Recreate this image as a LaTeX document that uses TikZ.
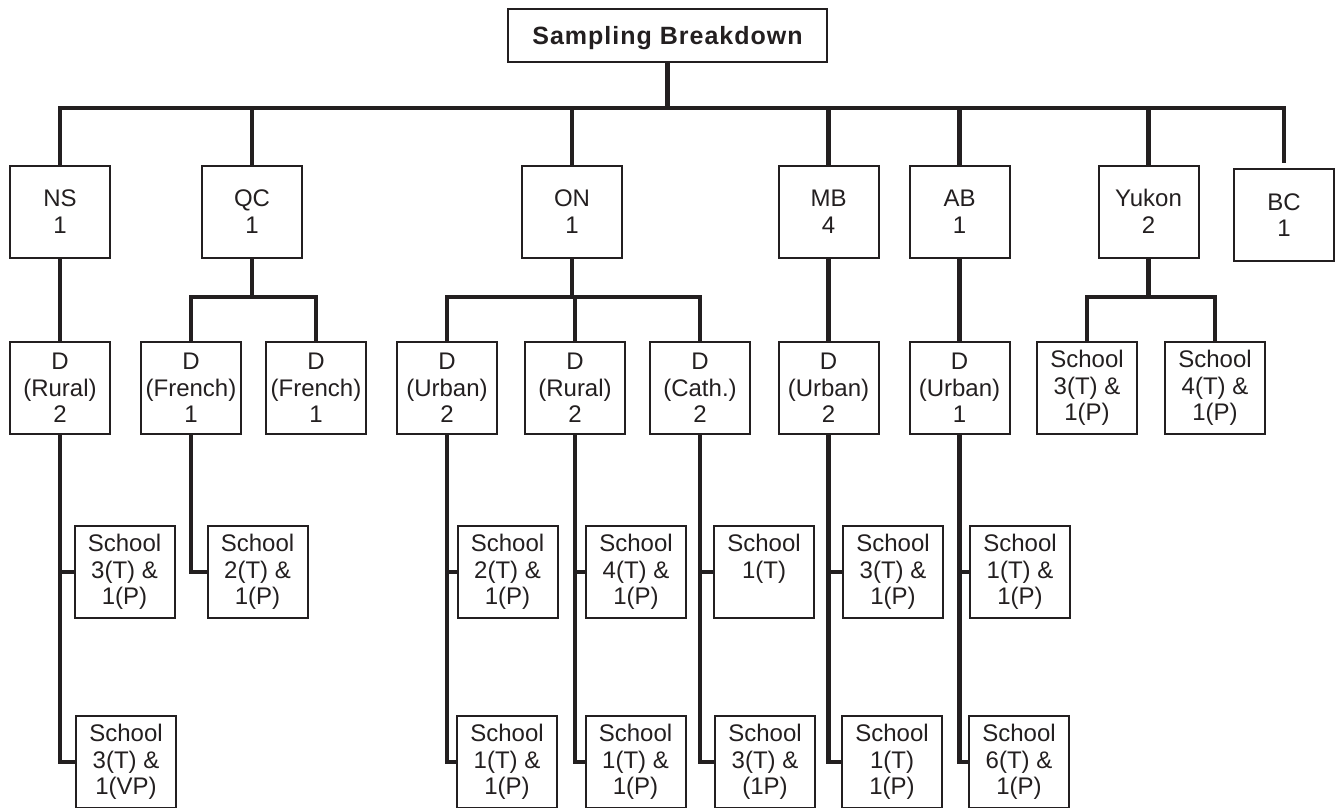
\documentclass[tikz,border=0pt]{standalone}
\usepackage{fontspec}
\setmainfont{Liberation Sans}
\definecolor{ink}{RGB}{35,31,32}
\begin{document}
\begin{tikzpicture}[x=1pt,y=-1pt,
  bx/.style={draw=ink, line width=2pt, text=ink, minimum width=100pt, minimum height=92pt,
    inner sep=0pt, align=center, font=\fontsize{24}{26.5}\selectfont},
  up/.style={execute at begin node={\rule{0pt}{26pt}}},
  titlebox/.style={draw=ink, line width=2pt, text=ink, minimum width=319pt, minimum height=53pt,
    inner sep=0pt, text depth=0pt, font=\bfseries\fontsize{25}{30}\selectfont\addfontfeature{LetterSpace=4}},
  conn/.style={draw=ink, line width=4.3pt, line join=miter}]
\useasboundingbox (0,0) rectangle (1338,807);
\clip (0,0) rectangle (1338,807);

% title
\node[titlebox] (title) at (667.5,35.5) {Sampling Breakdown};
\coordinate (bar) at (667,108);

% provinces
\node[bx] (ns) at (60,211.5) {NS\\1};
\node[bx] (qc) at (252,211.5) {QC\\1};
\node[bx] (on) at (572,211.5) {ON\\1};
\node[bx] (mb) at (828.5,211.5) {MB\\4};
\node[bx] (ab) at (959.5,211.5) {AB\\1};
\node[bx] (yk) at (1148.5,211.5) {Yukon\\2};
\node[bx] (bc) at (1284,215) {BC\\1};

% districts
\node[bx] (nsd) at (60,388) {D\\(Rural)\\2};
\node[bx] (qcd1) at (191,388) {D\\(French)\\1};
\node[bx] (qcd2) at (316,388) {D\\(French)\\1};
\node[bx] (ond1) at (447,388) {D\\(Urban)\\2};
\node[bx] (ond2) at (575,388) {D\\(Rural)\\2};
\node[bx] (ond3) at (700,388) {D\\(Cath.)\\2};
\node[bx] (mbd) at (828.5,388) {D\\(Urban)\\2};
\node[bx] (abd) at (959.5,388) {D\\(Urban)\\1};
\node[bx,up] (yks1) at (1087,388) {School\\3(T) \&\\1(P)};
\node[bx,up] (yks2) at (1215,388) {School\\4(T) \&\\1(P)};

% schools, upper row
\node[bx,up] (nss1) at (124.5,572) {School\\3(T) \&\\1(P)};
\node[bx,up] (qcs1) at (257.5,572) {School\\2(T) \&\\1(P)};
\node[bx,up] (ons1) at (507.5,572) {School\\2(T) \&\\1(P)};
\node[bx,up] (ons2) at (636,572) {School\\4(T) \&\\1(P)};
\node[bx,up] (ons3) at (764,572) {School\\1(T)\\\phantom{1(P)}};
\node[bx,up] (mbs1) at (893,572) {School\\3(T) \&\\1(P)};
\node[bx,up] (abs1) at (1020,572) {School\\1(T) \&\\1(P)};

% schools, lower row
\node[bx] (nss2) at (126,762) {School\\3(T) \&\\1(VP)};
\node[bx] (ons4) at (507,762) {School\\1(T) \&\\1(P)};
\node[bx] (ons5) at (635.5,762) {School\\1(T) \&\\1(P)};
\node[bx] (ons6) at (765,762) {School\\3(T) \&\\(1P)};
\node[bx] (mbs2) at (892,762) {School\\1(T)\\1(P)};
\node[bx] (abs2) at (1019,762) {School\\6(T) \&\\1(P)};

% top level connectors
\draw[conn] (title.south) -- (title.south |- bar);
\draw[conn] (ns.north) -- (ns.north |- bar) -- (bc.north |- bar) -- ([yshift=5pt]bc.north);
\foreach \p in {qc,on,mb,ab,yk} \draw[conn] (\p.north) -- (\p.north |- bar);

% province to district
\draw[conn] (ns.south) -- (nsd.north);
\draw[conn] (mb.south) -- (mbd.north);
\draw[conn] (ab.south) -- (abd.north);

\coordinate (bar2) at (0,297);
\draw[conn] (qc.south) -- (qc.south |- bar2);
\draw[conn] (qcd1.north) -- (qcd1.north |- bar2) -- (qcd2.north |- bar2) -- (qcd2.north);
\draw[conn] (on.south) -- (on.south |- bar2);
\draw[conn] (ond1.north) -- (ond1.north |- bar2) -- (ond3.north |- bar2) -- (ond3.north);
\draw[conn] (ond2.north) -- (ond2.north |- bar2);
\draw[conn] (yk.south) -- (yk.south |- bar2);
\draw[conn] (yks1.north) -- (yks1.north |- bar2) -- (yks2.north |- bar2) -- (yks2.north);

% district to school
\draw[conn] (nsd.south) |- (nss2.west);
\draw[conn] (nsd.south) |- (nss1.west);
\draw[conn] (qcd1.south) |- (qcs1.west);
\draw[conn] (ond1.south) |- (ons4.west);
\draw[conn] (ond1.south) |- (ons1.west);
\draw[conn] (ond2.south) |- (ons5.west);
\draw[conn] (ond2.south) |- (ons2.west);
\draw[conn] (ond3.south) |- (ons6.west);
\draw[conn] (ond3.south) |- (ons3.west);
\draw[conn] (mbd.south) |- (mbs2.west);
\draw[conn] (mbd.south) |- (mbs1.west);
\draw[conn] (abd.south) |- (abs2.west);
\draw[conn] (abd.south) |- (abs1.west);
\end{tikzpicture}
\end{document}
